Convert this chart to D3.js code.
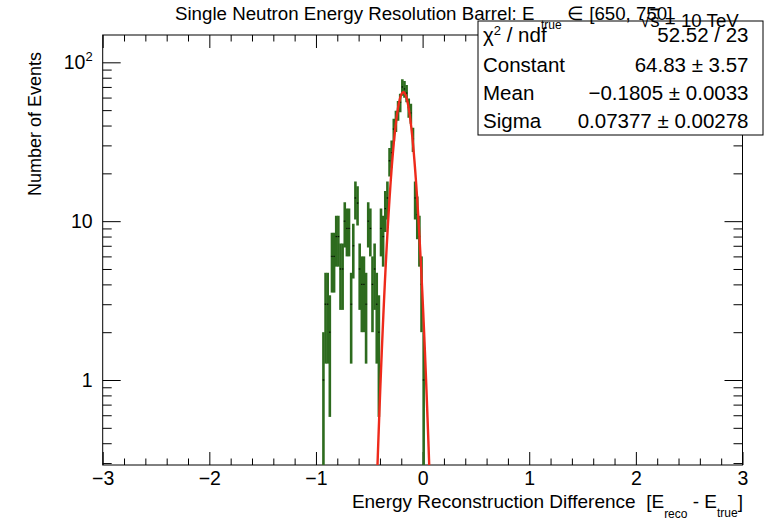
<!DOCTYPE html>
<html>
<head>
<meta charset="utf-8">
<script src="https://cdn.jsdelivr.net/npm/d3@7"></script>
<style>
  body { margin: 0; background: #fff; }
  svg { display: block; font-family: "Liberation Sans", Arial, Helvetica, sans-serif; }
  text { white-space: pre; }
</style>
</head>
<body>
<svg id="chart" width="765" height="521"></svg>
<script>
// bin centres (width 0.02) and event counts
const binCenters = [-0.93, -0.91, -0.89, -0.87, -0.85, -0.83, -0.81, -0.79, -0.77, -0.75,
  -0.73, -0.71, -0.69, -0.67, -0.65, -0.63, -0.61, -0.59, -0.57, -0.55,
  -0.53, -0.51, -0.49, -0.47, -0.45, -0.43, -0.41, -0.39, -0.37, -0.35,
  -0.33, -0.31, -0.29, -0.27, -0.25, -0.23, -0.21, -0.19, -0.17, -0.15,
  -0.13, -0.11, -0.09, -0.07, -0.05, -0.03, -0.01, 0.01];
const counts = [1, 3, 3, 2, 6, 6, 8, 8, 5, 5,
  10, 9, 9, 3, 7, 14, 13, 5, 4, 4,
  3, 10, 9, 4, 5, 3, 2, 9, 8, 12,
  14, 24, 27, 38, 43, 50, 56, 70, 68, 64,
  52, 48, 33, 14, 11, 8, 4, 1];

// gaussian fit parameters (from the stats box)
const fitConstant = 64.83;
const fitMean = -0.1805;
const fitSigma = 0.07377;

const xMajorTicks = [-3, -2, -1, 0, 1, 2, 3];
const yMajorTicks = [1, 10, 100];
const yMinorTicks = [0.3, 0.4, 0.5, 0.6, 0.7, 0.8, 0.9, 2, 3, 4, 5, 6, 7, 8, 9, 20, 30, 40, 50, 60, 70, 80, 90];

const statsLabels = ["χ² / ndf", "Constant", "Mean", "Sigma"];
const statsValues = ["52.52 / 23", "64.83 ± 3.57", "−0.1805 ± 0.0033", "0.07377 ± 0.00278"];

const frame = { left: 102.7, right: 742.5, top: 35, bottom: 465 };
const green = "#2d6b1e";

const svg = d3.select("#chart");

const x = d3.scaleLinear().domain([-3, 3]).range([frame.left, frame.right]);
const y = d3.scaleLog().domain([0.2917, 148.6]).range([frame.bottom, frame.top]);

const xMinorTicks = d3.range(-30, 31, 2).map(d => d / 10).filter(d => !xMajorTicks.includes(d));

svg.append("clipPath").attr("id", "clip")
  .append("rect")
  .attr("x", frame.left).attr("y", frame.top)
  .attr("width", frame.right - frame.left).attr("height", frame.bottom - frame.top);

const fmtX = d => d < 0 ? "−" + Math.abs(d) : String(d);

// bottom axis
svg.append("g").attr("transform", `translate(0,${frame.bottom})`)
  .call(d3.axisBottom(x).tickValues(xMajorTicks).tickSize(-13).tickSizeOuter(0).tickPadding(6).tickFormat(fmtX))
  .call(g => g.select(".domain").remove())
  .call(g => g.selectAll("text").attr("font-size", 19.5).attr("fill", "#000").attr("font-family", null));
svg.append("g").attr("transform", `translate(0,${frame.bottom})`)
  .call(d3.axisBottom(x).tickValues(xMinorTicks).tickSize(-6.5).tickFormat(""))
  .call(g => g.select(".domain").remove());
// top axis
svg.append("g").attr("transform", `translate(0,${frame.top})`)
  .call(d3.axisTop(x).tickValues(xMajorTicks).tickSize(-13).tickFormat(""))
  .call(g => g.select(".domain").remove());
svg.append("g").attr("transform", `translate(0,${frame.top})`)
  .call(d3.axisTop(x).tickValues(xMinorTicks).tickSize(-6.5).tickFormat(""))
  .call(g => g.select(".domain").remove());

// left axis
svg.append("g").attr("transform", `translate(${frame.left},0)`)
  .call(d3.axisLeft(y).tickValues(yMajorTicks).tickSize(-18).tickPadding(10)
    .tickFormat(d => d === 100 ? "" : String(d)))
  .call(g => g.select(".domain").remove())
  .call(g => g.selectAll("text").attr("font-size", 19.5).attr("fill", "#000").attr("font-family", null))
  .call(g => {
    // 10^2 label with a raised small exponent
    const t = g.selectAll(".tick").filter(d => d === 100).select("text");
    t.append("tspan").text("10");
    t.append("tspan").attr("dy", -8).attr("font-size", 13).text("2");
  });
svg.append("g").attr("transform", `translate(${frame.left},0)`)
  .call(d3.axisLeft(y).tickValues(yMinorTicks).tickSize(-9).tickFormat(""))
  .call(g => g.select(".domain").remove());
// right axis
svg.append("g").attr("transform", `translate(${frame.right},0)`)
  .call(d3.axisRight(y).tickValues(yMajorTicks).tickSize(-18).tickFormat(""))
  .call(g => g.select(".domain").remove());
svg.append("g").attr("transform", `translate(${frame.right},0)`)
  .call(d3.axisRight(y).tickValues(yMinorTicks).tickSize(-9).tickFormat(""))
  .call(g => g.select(".domain").remove());

svg.selectAll(".tick line").attr("stroke", "#000");

// frame
svg.append("rect")
  .attr("x", frame.left).attr("y", frame.top)
  .attr("width", frame.right - frame.left).attr("height", frame.bottom - frame.top)
  .attr("fill", "none").attr("stroke", "#000").attr("stroke-width", 1);

// histogram with error bars
const bins = binCenters.map((c, i) => ({ c, n: counts[i] }));
const plot = svg.append("g").attr("clip-path", "url(#clip)");
const binW = 0.02;

plot.selectAll("line.err")
  .data(bins)
  .join("line")
  .attr("class", "err")
  .attr("x1", d => x(d.c)).attr("x2", d => x(d.c))
  .attr("y1", d => {
    const lo = d.n - Math.sqrt(d.n);
    return lo > 0 ? y(lo) : frame.bottom + 5;
  })
  .attr("y2", d => y(d.n + Math.sqrt(d.n)))
  .attr("stroke", green).attr("stroke-width", 2.6);

plot.selectAll("line.hbar")
  .data(bins)
  .join("line")
  .attr("class", "hbar")
  .attr("x1", d => x(d.c - binW / 2)).attr("x2", d => x(d.c + binW / 2))
  .attr("y1", d => y(d.n)).attr("y2", d => y(d.n))
  .attr("stroke", green).attr("stroke-width", 1.5);

plot.selectAll("rect.marker")
  .data(bins)
  .join("rect")
  .attr("class", "marker")
  .attr("x", d => x(d.c) - 0.6).attr("y", d => y(d.n) - 0.6)
  .attr("width", 1.2).attr("height", 1.2)
  .attr("fill", "#000");

// gaussian fit curve
const fitX = d3.range(-0.6, 0.2, 0.002);
const gauss = v => fitConstant * Math.exp(-0.5 * ((v - fitMean) / fitSigma) ** 2);
plot.append("path")
  .datum(fitX)
  .attr("d", d3.line().x(v => x(v)).y(v => y(Math.max(gauss(v), 0.05))))
  .attr("fill", "none").attr("stroke", "#ee2a1b").attr("stroke-width", 2.4);

// stats box
const box = { x: 478, y: 21, w: 285, h: 114 };
svg.append("rect")
  .attr("x", box.x).attr("y", box.y).attr("width", box.w).attr("height", box.h)
  .attr("fill", "#fff").attr("stroke", "#000").attr("stroke-width", 1);
const rowY = [41.5, 71.5, 100, 128];
statsLabels.forEach((t, i) => {
  const lbl = svg.append("text").attr("x", 483).attr("y", rowY[i]).attr("font-size", 20.5);
  if (i === 0) {
    lbl.append("tspan").text("χ");
    lbl.append("tspan").attr("dy", -7).attr("font-size", 13).text("2");
    lbl.append("tspan").attr("dy", 7).text(" / ndf");
  } else {
    lbl.text(t);
  }
  svg.append("text").attr("x", 748.5).attr("y", rowY[i]).attr("font-size", 20.5)
    .attr("text-anchor", "end").text(statsValues[i]);
});

// title
svg.append("text").attr("x", 175).attr("y", 19.5).attr("font-size", 18.7)
  .text("Single Neutron Energy Resolution Barrel: E");
svg.append("text").attr("x", 541).attr("y", 29).attr("font-size", 12).text("true");
svg.append("text").attr("x", 567).attr("y", 19.5).attr("font-size", 18.7).text("∈ [650, 750]");

// sqrt(s) label
const sq = svg.append("text").attr("x", 640).attr("y", 26.5).attr("font-size", 18.7);
sq.append("tspan").text("√");
sq.append("tspan").attr("text-decoration", "overline").text("s");
sq.append("tspan").text(" = 10 TeV");

// axis titles
const xt = svg.append("text").attr("x", 743).attr("y", 507.5).attr("font-size", 19)
  .attr("text-anchor", "end");
xt.append("tspan").text("Energy Reconstruction Difference  [E");
xt.append("tspan").attr("dy", 10).attr("font-size", 12).text("reco");
xt.append("tspan").attr("dy", -10).text(" - E");
xt.append("tspan").attr("dy", 9).attr("font-size", 12).text("true");
xt.append("tspan").attr("dy", -9).text("]");

svg.append("text")
  .attr("transform", `translate(41,52) rotate(-90)`)
  .attr("text-anchor", "end").attr("font-size", 18)
  .text("Number of Events");
</script>
</body>
</html>
